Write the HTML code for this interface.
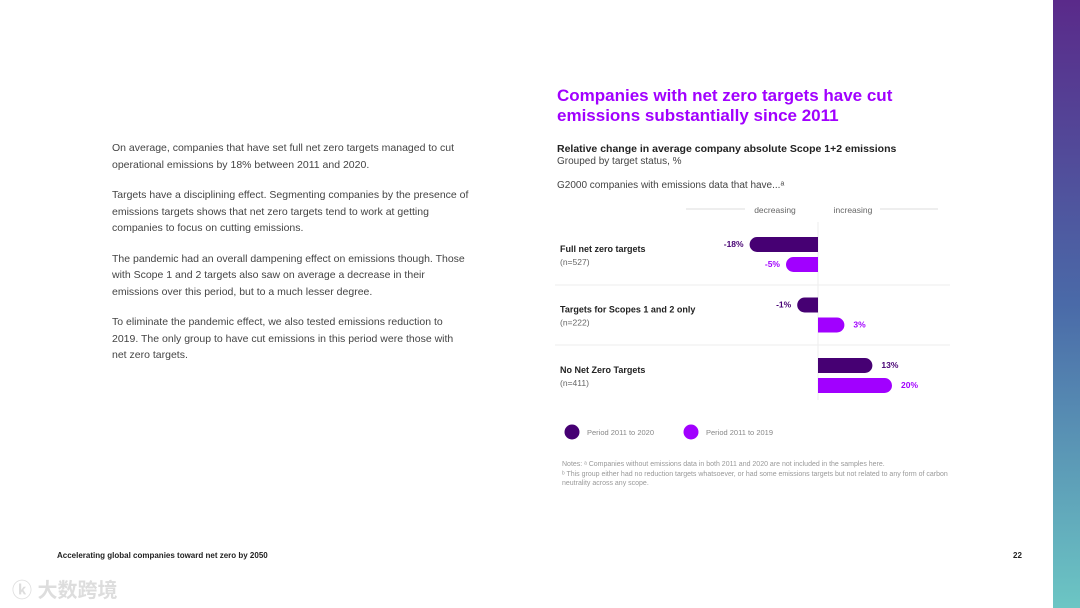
<!DOCTYPE html>
<html><head><meta charset="utf-8"><style>
body{margin:0;width:1080px;height:608px;background:#fff;position:relative;overflow:hidden;font-family:"Liberation Sans","Noto Sans CJK SC",sans-serif;color:#333}
.abs{position:absolute}
.body p{margin:0 0 14px 0;font-size:10.5px;line-height:16.5px;color:#444}
</style></head><body>
<div class="abs" style="left:1053px;top:0;width:27px;height:608px;background:linear-gradient(#5a2a8a,#4a6aa8 50%,#6cc6c4)"></div>
<div class="abs body" style="left:112px;top:140px;width:358px">
<p>On average, companies that have set full net zero targets managed to cut operational emissions by 18% between 2011 and 2020.</p>
<p>Targets have a disciplining effect. Segmenting companies by the presence of emissions targets shows that net zero targets tend to work at getting companies to focus on cutting emissions.</p>
<p>The pandemic had an overall dampening effect on emissions though. Those with Scope 1 and 2 targets also saw on average a decrease in their emissions over this period, but to a much lesser degree.</p>
<p>To eliminate the pandemic effect, we also tested emissions reduction to 2019. The only group to have cut emissions in this period were those with net zero targets.</p>
</div>
<div class="abs" style="left:557px;top:86px;font-size:17px;font-weight:bold;color:#a100ff;line-height:20px">Companies with net zero targets have cut<br>emissions substantially since 2011</div>
<div class="abs" style="left:557px;top:143px;font-size:10.5px;font-weight:bold;color:#222">Relative change in average company absolute Scope 1+2 emissions</div>
<div class="abs" style="left:557px;top:156px;font-size:10px;color:#444">Grouped by target status, %</div>
<div class="abs" style="left:557px;top:180px;font-size:10px;color:#444">G2000 companies with emissions data that have...ᵃ</div>
<svg class="abs" style="left:0;top:0" width="1080" height="608" id="chart"></svg>
<div class="abs" style="left:562px;top:460px;width:390px;font-size:7px;line-height:9.5px;color:#999">Notes: ᵃ Companies without emissions data in both 2011 and 2020 are not included in the samples here.<br>ᵇ This group either had no reduction targets whatsoever, or had some emissions targets but not related to any form of carbon neutrality across any scope.</div>
<div class="abs" style="left:57px;top:551px;font-size:8px;font-weight:bold;color:#222">Accelerating global companies toward net zero by 2050</div>
<div class="abs" style="left:1013px;top:551px;font-size:8px;font-weight:bold;color:#222">22</div>
<div class="abs" style="left:12px;top:574px;font-size:20px;color:#ddd;font-weight:bold">ⓚ 大数跨境</div>
<script>
const categories=["Full net zero targets","Targets for Scopes 1 and 2 only","No Net Zero Targets"];
const counts=["(n=527)","(n=222)","(n=411)"];
const series2020=[-18,-1,13];
const series2019=[-5,3,20];
const seriesNames=["Period 2011 to 2020","Period 2011 to 2019"];
const colors=["#460073","#a100ff"];
const svg=document.getElementById('chart');
const NS='http://www.w3.org/2000/svg';
const zeroX=818;
function len(v){return 18+2.8*Math.abs(v);}
function x0(v){return v<0?zeroX-len(v):zeroX;}
function rowY(i){return 237+i*60.5;}
function mk(t,a,txt){const e=document.createElementNS(NS,t);for(const k in a)e.setAttribute(k,a[k]);if(txt!==undefined)e.textContent=txt;svg.appendChild(e);return e;}
let e;
e=mk('line',{x1:686,y1:209,x2:745,y2:209,stroke:'#ddd','stroke-width':1});

e=mk('line',{x1:880,y1:209,x2:938,y2:209,stroke:'#ddd','stroke-width':1});

e=mk('text',{x:775,y:213,'font-size':8.5,fill:'#666','text-anchor':'middle'},'decreasing');

e=mk('text',{x:853,y:213,'font-size':8.5,fill:'#666','text-anchor':'middle'},'increasing');

e=mk('line',{x1:zeroX,y1:222,x2:zeroX,y2:400,stroke:'#eee','stroke-width':1});

[285,345].forEach((y,i)=>{e=mk('line',{x1:555,y1:y,x2:950,y2:y,stroke:'#eee','stroke-width':1});
});
categories.forEach((c,i)=>{
 const y=rowY(i);
 e=mk('text',{x:560,y:y+15,'font-size':9,'font-weight':'bold',fill:'#222'},c);
 
 e=mk('text',{x:560,y:y+28,'font-size':8.5,fill:'#666'},counts[i]);
 
 [series2020[i],series2019[i]].forEach((v,s)=>{
  const by=y+s*20,L=len(v),X=x0(v),r=7.5,h=15;
  let d;
  if(v<0)d=`M${X+L},${by}H${X+r}A${r},${r} 0 0 0 ${X+r},${by+h}H${X+L}Z`;
  else d=`M${X},${by}H${X+L-r}A${r},${r} 0 0 1 ${X+L-r},${by+h}H${X}Z`;
  e=mk('path',{d:d,fill:colors[s]});
  
  const tx=v<0?X-6:X+L+9;
  e=mk('text',{x:tx,y:by+10,'font-size':8.5,'font-weight':'bold',fill:colors[s],'text-anchor':v<0?'end':'start'},v+'%');
  
 });
});
seriesNames.forEach((n,s)=>{
 const lx=572+s*119;
 e=mk('circle',{cx:lx,cy:432,r:7.5,fill:colors[s]});
 
 e=mk('text',{x:lx+15,y:435,'font-size':7.5,fill:'#888'},n);
 
});
</script>
</body></html>
